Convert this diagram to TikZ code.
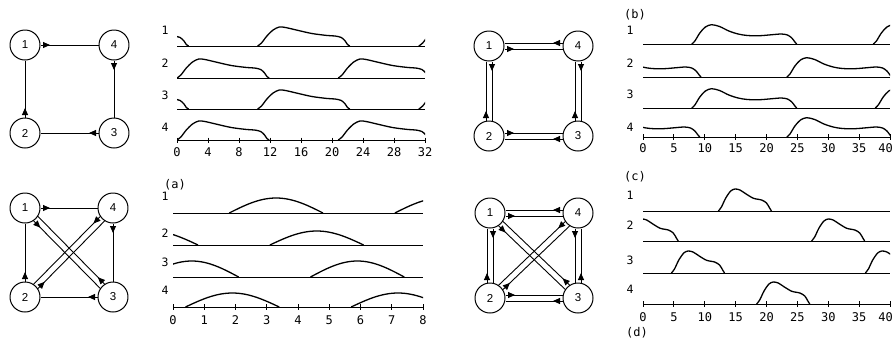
\documentclass[tikz,border=0pt]{standalone}
\usepackage{fontspec}
\setmainfont{DejaVu Sans Mono}
\newfontfamily\cellfont{Liberation Sans}
\usetikzlibrary{arrows.meta,decorations.markings}
\newcommand\pulseA[2]{\draw[wave,shift={(#1,#2)},yscale=-1] plot[smooth] coordinates {(0,0) (0.5,3) (1.2,10) (2,16) (2.8,19) (3.6,18.5) (5,16) (7,12.5) (9,10.5) (10,10) (10.8,8.5) (11.3,5) (11.6,1.5) (11.9,0)};}
\newcommand\pulseB[2]{\draw[wave,shift={(#1,#2)},yscale=-1] plot[smooth] coordinates {(0,0) (0.5,3) (1.3,11) (2.2,17) (3.2,19.3) (4.5,17.5) (6,13) (7.5,10) (9,8.5) (11,8.3) (13,9.3) (14.5,10) (15.5,9) (16.2,6) (16.7,2) (17,0)};}
\newcommand\pulseC[2]{\draw[wave,shift={(#1,#2)},yscale=-1] plot[smooth] coordinates {(0,0) (0.5,4) (1.2,13) (2,20) (2.7,22) (3.5,21) (4.5,17) (5.7,12.7) (7,11) (7.8,8) (8.3,3) (8.6,0)};}
\newcommand\archf[4]{\draw[wave] plot[domain=#1:#2,samples=31] (\x,{#3-#4*sin(180*(\x-(#1))/((#2)-(#1)))});}
\begin{document}
\begin{tikzpicture}[x=1pt,y=-1pt,line join=round,
 cell/.style={circle,draw,line width=1pt,minimum size=30pt,inner sep=0pt,font=\cellfont\fontsize{11.5}{13}\selectfont},
 conn/.style={line width=0.9pt},
 mk/.style={conn,postaction={decorate},decoration={markings,mark=at position -9.5pt with {\arrowreversed{Triangle[length=7pt,width=6pt]}}}},
 wave/.style={line width=1.3pt},
 axisline/.style={line width=0.8pt},
 tlab/.style={font=\fontsize{12}{14}\selectfont,inner sep=0pt},
 rlab/.style={font=\fontsize{11.5}{13}\selectfont,inner sep=0pt},
]
\useasboundingbox (0,0) rectangle (894,341);
\fill[white] (0,0) rectangle (894,341);

% ---------- graph A (top left) ----------
\node[cell] (a1) at (25,45) {1};
\node[cell] (a4) at (114,45) {4};
\node[cell] (a2) at (25,133) {2};
\node[cell] (a3) at (114,133) {3};
\draw[mk] (a4) -- (a1);
\draw[mk] (a1) -- (a2);
\draw[mk] (a2) -- (a3);
\draw[mk] (a3) -- (a4);

% ---------- graph B (top right) ----------
\node[cell] (b1) at (489,46) {1};
\node[cell] (b4) at (578,46) {4};
\node[cell] (b2) at (489,136) {2};
\node[cell] (b3) at (578,136) {3};
\draw[mk] ([yshift=3pt]b1.east) -- ([yshift=3pt]b4.west);
\draw[mk] ([yshift=-3pt]b4.west) -- ([yshift=-3pt]b1.east);
\draw[mk] ([xshift=-3pt]b1.south) -- ([xshift=-3pt]b2.north);
\draw[mk] ([xshift=3pt]b2.north) -- ([xshift=3pt]b1.south);
\draw[mk] ([yshift=3pt]b3.west) -- ([yshift=3pt]b2.east);
\draw[mk] ([yshift=-3pt]b2.east) -- ([yshift=-3pt]b3.west);
\draw[mk] ([xshift=-3pt]b4.south) -- ([xshift=-3pt]b3.north);
\draw[mk] ([xshift=3pt]b3.north) -- ([xshift=3pt]b4.south);

% ---------- graph C (bottom left) ----------
\node[cell] (c1) at (25,208) {1};
\node[cell] (c4) at (113,208) {4};
\node[cell] (c2) at (25,297) {2};
\node[cell] (c3) at (113,297) {3};
\draw[mk] (c4) -- (c1);
\draw[mk] (c1) -- (c2);
\draw[mk] (c2) -- (c3);
\draw[mk] (c3) -- (c4);
\draw[mk] (c3.146.5) -- (c1.-56.5);
\draw[mk] (c1.-33.5) -- (c3.123.5);
\draw[mk] (c2.56.5) -- (c4.-146.5);
\draw[mk] (c4.-123.5) -- (c2.33.5);

% ---------- graph D (bottom right) ----------
\node[cell] (d1) at (490,213) {1};
\node[cell] (d4) at (578,213) {4};
\node[cell] (d2) at (490,298) {2};
\node[cell] (d3) at (578,298) {3};
\draw[mk] ([yshift=3pt]d1.east) -- ([yshift=3pt]d4.west);
\draw[mk] ([yshift=-3pt]d4.west) -- ([yshift=-3pt]d1.east);
\draw[mk] ([xshift=-3pt]d1.south) -- ([xshift=-3pt]d2.north);
\draw[mk] ([xshift=3pt]d2.north) -- ([xshift=3pt]d1.south);
\draw[mk] ([yshift=3pt]d3.west) -- ([yshift=3pt]d2.east);
\draw[mk] ([yshift=-3pt]d2.east) -- ([yshift=-3pt]d3.west);
\draw[mk] ([xshift=-3pt]d3.north) -- ([xshift=-3pt]d4.south);
\draw[mk] ([xshift=3pt]d4.south) -- ([xshift=3pt]d3.north);
\draw[mk] (d3.146.5) -- (d1.-56.5);
\draw[mk] (d1.-33.5) -- (d3.123.5);
\draw[mk] (d2.56.5) -- (d4.-146.5);
\draw[mk] (d4.-123.5) -- (d2.33.5);

% ---------- plot top left ----------
\node[rlab] (p1l1) at (165,30) {1};
\node[rlab] (p1l2) at (165,63) {2};
\node[rlab] (p1l3) at (165,95) {3};
\node[rlab] (p1l4) at (165,127) {4};
\node[tlab] (capa) at (175,185) {(a)};
\begin{scope}[shift={(177,0)},x=7.75pt]
 \foreach \yy in {46,78,109,140} \draw[axisline] (0,\yy) -- (32,\yy);
 \foreach \i in {0,4,...,32} {\draw[axisline] (\i,137.5) -- (\i,142.5); \node[tlab] (pa\i) at (\i,152) {\i};}
 \begin{scope}
 \clip (0,0) rectangle (32,341);
 \pulseA{-10.4}{46} \pulseA{10.4}{46} \pulseA{31.2}{46}
 \pulseA{0}{78} \pulseA{20.8}{78}
 \pulseA{-10.4}{109} \pulseA{10.4}{109} \pulseA{31.2}{109}
 \pulseA{0}{140} \pulseA{20.8}{140}
 \end{scope}
\end{scope}

% ---------- plot top right ----------
\node[tlab] (capb) at (635,15) {(b)};
\node[rlab] (p2l1) at (630,30) {1};
\node[rlab] (p2l2) at (630,63) {2};
\node[rlab] (p2l3) at (630,94) {3};
\node[rlab] (p2l4) at (630,127) {4};
\begin{scope}[shift={(643,0)},x=6.175pt]
 \foreach \yy in {44,77,108,137} \draw[axisline] (0,\yy) -- (40,\yy);
 \foreach \i in {0,5,...,35} {\draw[axisline] (\i,134) -- (\i,140); \node[tlab] (pb\i) at (\i,148) {\i};}
 \draw[axisline] (40,134) -- (40,140);
 \node[tlab,anchor=east] (pb40) at (40.5,148) {40};
 \begin{scope}
 \clip (0,0) rectangle (40,341);
 \pulseB{7.9}{44} \pulseB{37.3}{44}
 \pulseB{-7.6}{77} \pulseB{23.3}{77}
 \pulseB{7.9}{108} \pulseB{37.6}{108}
 \pulseB{-7.8}{137} \pulseB{23.3}{137}
 \end{scope}
\end{scope}

% ---------- plot bottom left ----------
\node[rlab] (p3l1) at (165,196) {1};
\node[rlab] (p3l2) at (165,233) {2};
\node[rlab] (p3l3) at (165,262) {3};
\node[rlab] (p3l4) at (165,290) {4};
\begin{scope}[shift={(173,0)},x=31.25pt]
 \foreach \yy in {213,245,277,307} \draw[axisline] (0,\yy) -- (8,\yy);
 \foreach \i in {0,...,8} {\draw[axisline] (\i,304) -- (\i,310); \node[tlab] (pc\i) at (\i,320) {\i};}
 \begin{scope}
 \clip (0,0) rectangle (8,341);
 \archf{1.8}{4.8}{213}{15} \archf{7.1}{10.1}{213}{15}
 \archf{-2.2}{0.8}{245}{14} \archf{3.1}{6.1}{245}{14}
 \archf{-0.9}{2.1}{277}{16} \archf{4.4}{7.4}{277}{16}
 \archf{0.4}{3.4}{307}{14} \archf{5.7}{8.7}{307}{14}
 \end{scope}
\end{scope}

% ---------- plot bottom right ----------
\node[tlab] (capc) at (635,177) {(c)};
\node[tlab] (capd) at (637,333) {(d)};
\node[rlab] (p4l1) at (630,195) {1};
\node[rlab] (p4l2) at (630,225) {2};
\node[rlab] (p4l3) at (630,260) {3};
\node[rlab] (p4l4) at (630,289) {4};
\begin{scope}[shift={(643,0)},x=6.175pt]
 \foreach \yy in {211,241,273,304} \draw[axisline] (0,\yy) -- (40,\yy);
 \foreach \i in {0,5,...,35} {\draw[axisline] (\i,301) -- (\i,307); \node[tlab] (pd\i) at (\i,317) {\i};}
 \draw[axisline] (40,301) -- (40,307);
 \node[tlab,anchor=east] (pd40) at (40.5,317) {40};
 \begin{scope}
 \clip (0,0) rectangle (40,341);
 \pulseC{12.2}{211}
 \pulseC{-2.9}{241} \pulseC{27.3}{241}
 \pulseC{4.6}{273} \pulseC{36}{273}
 \pulseC{18.4}{304}
 \end{scope}
\end{scope}
\end{tikzpicture}
\end{document}
